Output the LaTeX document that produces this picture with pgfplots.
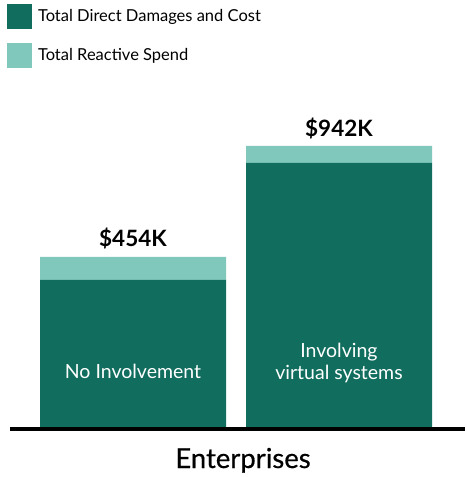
\documentclass[border=0pt]{standalone}
\usepackage{pgfplots}
\pgfplotsset{compat=1.18}
\usepackage{fontspec}
\setmainfont{Lato}
\newfontfamily\heavier[FakeBold=0.5]{Lato}
\definecolor{darkgreen}{RGB}{17,110,94}
\definecolor{lightgreen}{RGB}{128,200,188}
\begin{document}
\begin{tikzpicture}
\begin{axis}[
  scale only axis,
  width=455bp, height=429bp,
  xmin=10, xmax=465, ymin=-2, ymax=427,
  axis x line=bottom,
  axis y line=none,
  x axis line style={line width=4bp,-},
  xtick=\empty, ytick=\empty,
  ybar stacked,
  bar width=186,
  clip=false,
  legend style={draw=none, fill=none, at={(axis cs:7,423)}, anchor=north west,
    inner sep=0pt, outer sep=0pt, row sep=14bp, font=\fontsize{16.5bp}{18bp}\selectfont,
    nodes={inner xsep=6bp, inner ysep=0pt}},
  legend cell align=left,
  legend image code/.code={\fill[#1,draw=none] (0bp,-12.5bp) rectangle (25bp,12.5bp);},
]
\addplot[fill=darkgreen, draw=none] coordinates {(133,147) (339,264)};
\addlegendentry{Total Direct Damages and Cost}
\addplot[fill=lightgreen, draw=none] coordinates {(133,23) (339,17)};
\addlegendentry{Total Reactive Spend}

\node[anchor=base, font=\fontsize{22.5bp}{26bp}\selectfont\bfseries] at (axis cs:133,180) {\$454K};
\node[anchor=base, font=\fontsize{22.5bp}{26bp}\selectfont\bfseries] at (axis cs:339,290) {\$942K};
\coordinate (la) at (axis cs:133,56);
\coordinate (lb) at (axis cs:339,64);
\node[anchor=base, font=\fontsize{27.5bp}{30bp}\heavier] at (axis cs:243,-41) {Enterprises};
\useasboundingbox (axis cs:0,427) rectangle (axis cs:465,-50);
\end{axis}
\node[text=white, font=\fontsize{19.5bp}{22bp}\selectfont] at (la) {No Involvement};
\node[text=white, align=center, font=\fontsize{19.5bp}{22bp}\selectfont] at (lb) {Involving\\virtual systems};
\end{tikzpicture}
\end{document}
